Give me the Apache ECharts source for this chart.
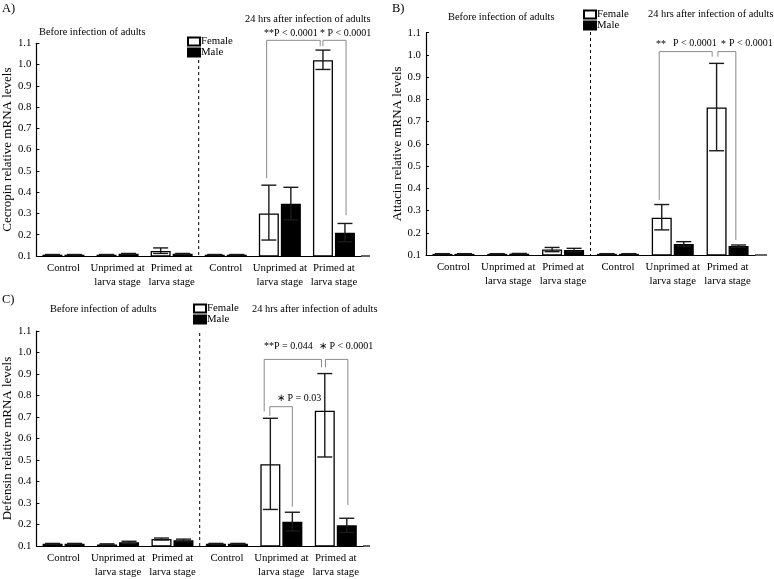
<!DOCTYPE html>
<html><head><meta charset="utf-8">
<script src="https://cdn.jsdelivr.net/npm/echarts@6/dist/echarts.min.js"></script>
<style>html,body{margin:0;padding:0;background:#fff}#c{width:774px;height:579px}</style>
</head><body><div id="c"></div>
<script>
// ---------- DATA ----------
const categories = ['Control', 'Unprimed at\nlarva stage', 'Primed at\nlarva stage',
                    'Control', 'Unprimed at\nlarva stage', 'Primed at\nlarva stage'];
const yTicks = [0.1, 1.1, 0.1]; // min, max, step

// A) Cecropin
const cecFemale   = [0.106, 0.106, 0.124, 0.106, 0.300, 1.020];
const cecFemaleLo = [0.105, 0.105, 0.112, 0.105, 0.175, 0.977];
const cecFemaleHi = [0.107, 0.107, 0.138, 0.107, 0.433, 1.068];
const cecMale     = [0.106, 0.110, 0.110, 0.106, 0.346, 0.209];
const cecMaleLo   = [0.105, 0.108, 0.108, 0.105, 0.270, 0.167];
const cecMaleHi   = [0.107, 0.112, 0.112, 0.107, 0.423, 0.253];

// B) Attacin
const attFemale   = [0.105, 0.105, 0.125, 0.105, 0.268, 0.764];
const attFemaleLo = [0.104, 0.104, 0.115, 0.104, 0.213, 0.569];
const attFemaleHi = [0.106, 0.106, 0.134, 0.106, 0.327, 0.962];
const attMale     = [0.105, 0.106, 0.122, 0.105, 0.150, 0.140];
const attMaleLo   = [0.104, 0.105, 0.115, 0.104, 0.140, 0.135];
const attMaleHi   = [0.106, 0.107, 0.130, 0.106, 0.160, 0.145];

// C) Defensin
const defFemale   = [0.110, 0.107, 0.133, 0.110, 0.480, 0.729];
const defFemaleLo = [0.108, 0.105, 0.128, 0.108, 0.270, 0.514];
const defFemaleHi = [0.112, 0.110, 0.137, 0.112, 0.694, 0.902];
const defMale     = [0.110, 0.117, 0.127, 0.110, 0.213, 0.196];
const defMaleLo   = [0.108, 0.112, 0.122, 0.108, 0.170, 0.163];
const defMaleHi   = [0.112, 0.122, 0.132, 0.112, 0.257, 0.229];

// significance brackets: [cat1, side1, foot1, cat2, side2, foot2, top]
const cecBrackets = [[4, -1.2, 0.466, 5, -1.25, 1.086, 1.114], [5, -1.0, 1.086, 5, 1.1, 0.292, 1.114]];
const attBrackets = [[4, -1.23, 0.348, 5, -1.4, 0.992, 1.015], [5, -0.88, 0.992, 5, 0.75, 0.167, 1.015]];
const defBrackets = [[4, -1.56, 0.726, 5, -1.3, 0.931, 0.968], [5, -0.94, 0.931, 5, 1.1, 0.29, 0.968],
                     [4, -1.05, 0.705, 4, 1.0, 0.283, 0.748]];

const yNames = ['Cecropin relative mRNA levels', 'Attacin relative mRNA levels', 'Defensin relative mRNA levels'];

// ---------- CHART ----------
const FONT = 'Liberation Serif, Times New Roman, serif';
const BAR_OFF = 11;
const chart = echarts.init(document.getElementById('c'));

const grids = [
  {left: 33, top: 43.3, width: 328, height: 212.7},
  {left: 426, top: 32.7, width: 329, height: 222.3},
  {left: 34, top: 331, width: 329, height: 219}
];

function errRender(side) {
  return function (params, api) {
    const c = api.value(0);
    const lo = api.coord([c, api.value(1)]);
    const hi = api.coord([c, api.value(2)]);
    const x = lo[0] + side * BAR_OFF;
    const cap = 7.5;
    const st = {stroke: '#1a1a1a', lineWidth: 1.4};
    return {type: 'group', children: [
      {type: 'line', shape: {x1: x, y1: lo[1], x2: x, y2: hi[1]}, style: st},
      {type: 'line', shape: {x1: x - cap, y1: hi[1], x2: x + cap, y2: hi[1]}, style: st},
      {type: 'line', shape: {x1: x - cap, y1: lo[1], x2: x + cap, y2: lo[1]}, style: st}
    ]};
  };
}
function bracketRender(params, api) {
  const p1 = api.coord([api.value(0), api.value(2)]);
  const p2 = api.coord([api.value(3), api.value(5)]);
  const t = api.coord([api.value(0), api.value(6)]);
  const x1 = p1[0] + api.value(1) * BAR_OFF;
  const x2 = p2[0] + api.value(4) * BAR_OFF;
  return {type: 'polyline', shape: {points: [[x1, p1[1]], [x1, t[1]], [x2, t[1]], [x2, p2[1]]]},
          style: {stroke: '#8a8a8a', lineWidth: 1, fill: null}};
}

const panels = [
  [cecFemale, cecFemaleLo, cecFemaleHi, cecMale, cecMaleLo, cecMaleHi, cecBrackets],
  [attFemale, attFemaleLo, attFemaleHi, attMale, attMaleLo, attMaleHi, attBrackets],
  [defFemale, defFemaleLo, defFemaleHi, defMale, defMaleLo, defMaleHi, defBrackets]
];

const xAxes = [], yAxes = [], series = [];
panels.forEach((p, i) => {
  xAxes.push({type: 'category', gridIndex: i, data: categories,
    axisLine: {lineStyle: {color: '#000', width: 1.2}}, axisTick: {show: false},
    axisLabel: {color: '#000', fontFamily: FONT, fontSize: 10.8, lineHeight: 14, margin: 5, interval: 0}});
  yAxes.push({type: 'value', gridIndex: i, min: yTicks[0], max: yTicks[1], interval: yTicks[2],
    name: yNames[i], nameLocation: 'middle', nameGap: 20,
    nameTextStyle: {color: '#000', fontFamily: FONT, fontSize: 13},
    axisLine: {show: true, lineStyle: {color: '#000', width: 1.2}},
    axisTick: {show: true, inside: true, length: 3, lineStyle: {color: '#000'}},
    splitLine: {show: false},
    axisLabel: {color: '#000', fontFamily: FONT, fontSize: 10.8, margin: 5,
      formatter: v => v.toFixed(1)}});
  series.push({name: 'Female', type: 'bar', xAxisIndex: i, yAxisIndex: i, data: p[0],
    barWidth: 20, barGap: '10%', itemStyle: {color: '#fff', borderColor: '#000', borderWidth: 1.3}});
  series.push({name: 'Male', type: 'bar', xAxisIndex: i, yAxisIndex: i, data: p[3],
    barWidth: 20, barGap: '10%', itemStyle: {color: '#000', borderColor: '#000', borderWidth: 1.3}});
  series.push({type: 'custom', xAxisIndex: i, yAxisIndex: i, z: 5, renderItem: errRender(-1),
    data: p[0].map((v, k) => [k, p[1][k], p[2][k]]), encode: {x: 0, y: [1, 2]}});
  series.push({type: 'custom', xAxisIndex: i, yAxisIndex: i, z: 5, renderItem: errRender(1),
    data: p[3].map((v, k) => [k, p[4][k], p[5][k]]), encode: {x: 0, y: [1, 2]}});
  series.push({type: 'custom', xAxisIndex: i, yAxisIndex: i, z: 6, renderItem: bracketRender,
    data: p[6], encode: {x: 0, y: 2}, clip: false});
});

const legendBase = {orient: 'vertical', icon: 'rect', itemWidth: 12, itemHeight: 8, itemGap: 0, padding: 0,
  data: ['Female', 'Male'], selectedMode: false,
  textStyle: {color: '#000', fontFamily: FONT, fontSize: 10.8, padding: [0, 0, 0, -4]}};

chart.setOption({
  animation: false,
  backgroundColor: '#fff',
  grid: grids,
  xAxis: xAxes,
  yAxis: yAxes,
  legend: [
    Object.assign({left: 187, top: 36}, legendBase),
    Object.assign({left: 583, top: 9}, legendBase),
    Object.assign({left: 193, top: 303}, legendBase)
  ],
  series: series
});

// ---------- annotations ----------
function txt(x, y, s, size) {
  return {type: 'text', x: x, y: y, style: {text: s, fill: '#000', font: (size || 10.5) + 'px ' + FONT,
    textVerticalAlign: 'middle', textAlign: 'left'}};
}
const g = [];
const dashTops = [60, 32, 333];
const axisEnds = [370, 767, 370];
[0, 1, 2].forEach(i => {
  const a = chart.convertToPixel({xAxisIndex: i, yAxisIndex: i}, [2, yTicks[0]]);
  const b = chart.convertToPixel({xAxisIndex: i, yAxisIndex: i}, [3, yTicks[0]]);
  const xm = (a[0] + b[0]) / 2;
  g.push({type: 'line', shape: {x1: xm, y1: dashTops[i], x2: xm, y2: a[1]},
    style: {stroke: '#000', lineWidth: 1, lineDash: [3, 3]}});
  const right = grids[i].left + grids[i].width;
  g.push({type: 'line', shape: {x1: right, y1: a[1], x2: axisEnds[i], y2: a[1]},
    style: {stroke: '#000', lineWidth: 1.2}});
});
g.push(txt(2, 9, 'A)', 12.5), txt(39, 32, 'Before infection of adults', 10.4),
  txt(245, 19, '24 hrs after infection of adults', 10.4),
  txt(264, 33, '**P < 0.0001', 10), txt(320, 33, '* P < 0.0001', 10));
g.push(txt(392, 9, 'B)', 12.5), txt(448, 17, 'Before infection of adults', 10.4),
  txt(648, 14, '24 hrs after infection of adults', 10.4),
  txt(656, 44, '**', 10), txt(673, 43, 'P < 0.0001', 10), txt(721, 44, '*', 10), txt(729, 43, 'P < 0.0001', 10));
g.push(txt(2, 300, 'C)', 12.5), txt(50, 309, 'Before infection of adults', 10.4),
  txt(252, 309, '24 hrs after infection of adults', 10.4),
  txt(264, 346, '**P = 0.044', 10), txt(319, 346, '\u2217 P < 0.0001', 10), txt(277, 398, '\u2217 P = 0.03', 10));
chart.setOption({graphic: g});
</script></body></html>
